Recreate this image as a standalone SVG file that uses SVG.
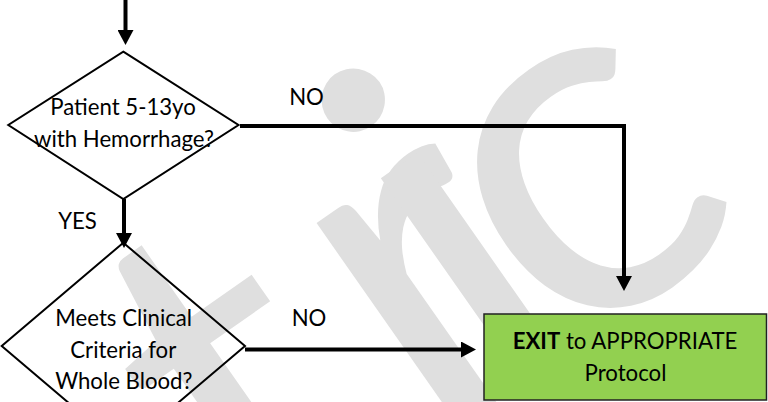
<svg xmlns="http://www.w3.org/2000/svg" width="768" height="402" viewBox="0 0 768 402">
<style>
.lbl{font-family:Lato,"Liberation Sans",sans-serif;font-size:22.2px;fill:#000;text-anchor:middle}
.shape{fill:none;stroke:#000;stroke-width:2}
.conn{fill:none;stroke:#000;stroke-width:4}
.wm{font-family:Lato,"Liberation Sans",sans-serif;font-size:500px;fill:#dfdfdf}
</style>
<defs>
<marker id="ah" viewBox="0 0 15 16" markerWidth="15" markerHeight="16" refX="0" refY="8" orient="auto" markerUnits="userSpaceOnUse">
<path d="M0,0 L15,8 L0,16 z" fill="#000"/>
</marker>
</defs>
<rect width="768" height="402" fill="#fff"/>
<g id="watermark">
<text class="wm" transform="translate(537,378) rotate(-35)" x="-343 -127 -51 30" y="0">tric</text>
</g>
<g id="connectors">
<path class="conn" d="M125.5,-5 V30" marker-end="url(#ah)"/>
<path class="conn" d="M124,199 V233" marker-end="url(#ah)"/>
<path class="conn" d="M240,126 H624 V276" marker-end="url(#ah)"/>
<path class="conn" d="M245,349.5 H461" marker-end="url(#ah)"/>
</g>
<g id="q1">
<polygon class="shape" points="123.3,51.7 238.5,125 123.3,199 8.3,125"/>
<text class="lbl" x="123" y="115">Patient 5-13yo</text>
<text class="lbl" x="124" y="146.7">with Hemorrhage?</text>
</g>
<g id="q2">
<polygon class="shape" points="123.3,242.7 245,346 123.3,449.3 1.7,346"/>
<text class="lbl" x="123.7" y="326">Meets Clinical</text>
<text class="lbl" x="123.3" y="358">Criteria for</text>
<text class="lbl" x="123.8" y="389.3">Whole Blood?</text>
</g>
<g id="lbl-no1"><text class="lbl" x="306.5" y="105">NO</text></g>
<g id="lbl-yes"><text class="lbl" x="77.5" y="229.3">YES</text></g>
<g id="lbl-no2"><text class="lbl" x="309" y="326">NO</text></g>
<g id="exit">
<rect x="484" y="314" width="282.5" height="86" fill="#92d050" stroke="#222" stroke-width="1.5"/>
<text class="lbl" x="625" y="349"><tspan font-weight="bold">EXIT</tspan> to APPROPRIATE</text>
<text class="lbl" x="625.5" y="381">Protocol</text>
</g>
</svg>
